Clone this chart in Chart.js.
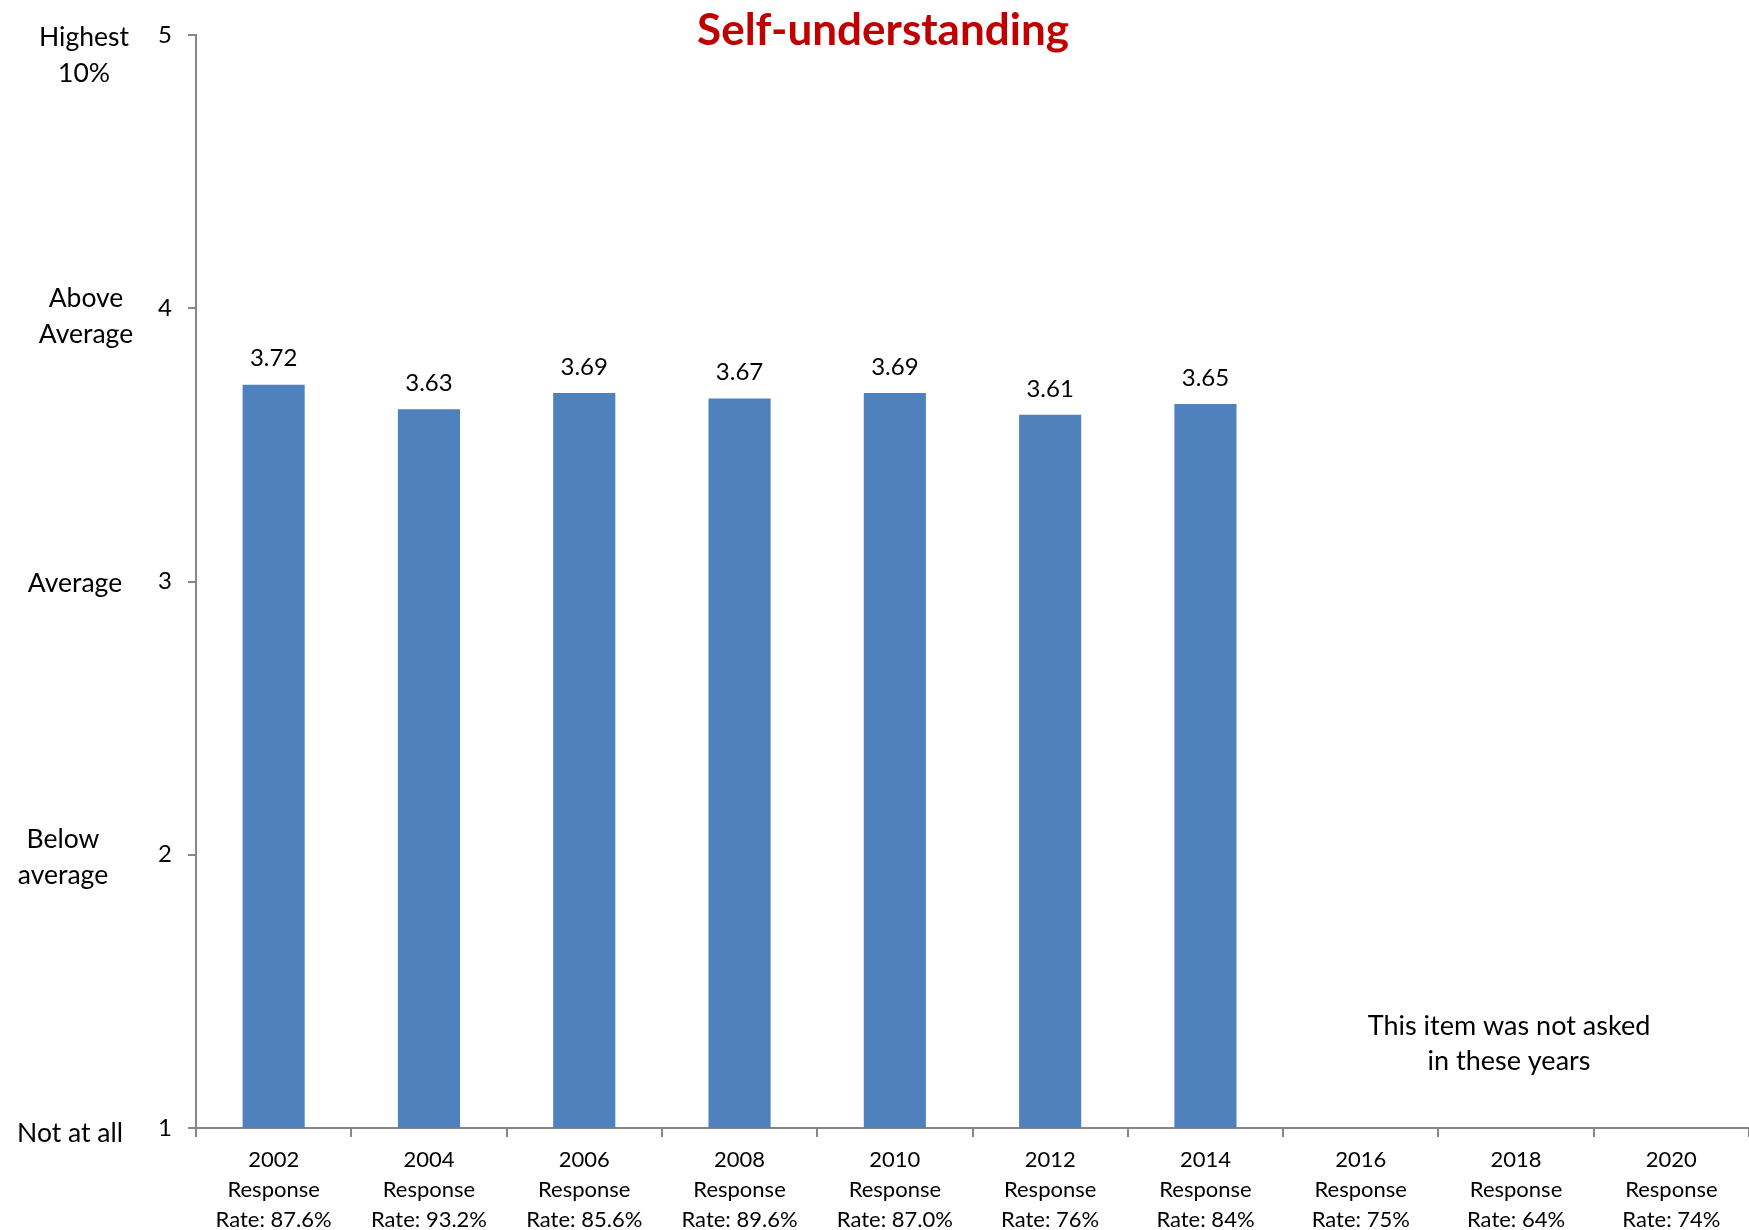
<!DOCTYPE html>
<html>
<head>
<meta charset="utf-8">
<script src="https://cdn.jsdelivr.net/npm/chart.js@4.4.1/dist/chart.umd.min.js"></script>
<style>
  html, body { margin: 0; padding: 0; background: #fff; }
  #wrap { width: 1749px; height: 1230px; }
</style>
</head>
<body>
<div id="wrap"><canvas id="chart" width="1749" height="1230"></canvas></div>
<script>
// chart data
const years = ['2002', '2004', '2006', '2008', '2010', '2012', '2014', '2016', '2018', '2020'];
const responseRates = ['87.6%', '93.2%', '85.6%', '89.6%', '87.0%', '76%', '84%', '75%', '64%', '74%'];
const scores = [3.72, 3.63, 3.69, 3.67, 3.69, 3.61, 3.65, null, null, null];
const scaleWords = [
  { value: 5, lines: ['Highest', '10%'], x: 84, dy: 2 },
  { value: 4, lines: ['Above', 'Average'], x: 86, dy: -10 },
  { value: 3, lines: ['Average'], x: 75, dy: 2 },
  { value: 2, lines: ['Below', 'average'], x: 63, dy: -15 },
  { value: 1, lines: ['Not at all'], x: 70, dy: 5 }
];
const titleText = 'Self-understanding';
const noteLines = ['This item was not asked', 'in these years'];

const FONT = 'Lato, "Open Sans", sans-serif';
const AXIS = '#868686';

// title, side words, value labels and the note are drawn here
const extras = {
  id: 'extras',
  afterDraw(chart) {
    const ctx = chart.ctx;
    const y = chart.scales.y;
    ctx.save();
    ctx.textAlign = 'center';
    ctx.textBaseline = 'middle';

    ctx.fillStyle = '#C00000';
    ctx.font = 'bold 44px ' + FONT;
    ctx.fillText(titleText, 883, 31);

    ctx.fillStyle = '#000';
    ctx.font = '26.5px ' + FONT;
    scaleWords.forEach(w => {
      const base = y.getPixelForValue(w.value) + w.dy;
      w.lines.forEach((l, i) => ctx.fillText(l, w.x, base + i * 36));
    });

    // values above bars
    ctx.font = '24px ' + FONT;
    const meta = chart.getDatasetMeta(0);
    meta.data.forEach((bar, i) => {
      if (scores[i] == null) return;
      ctx.fillText(scores[i].toFixed(2), bar.x, bar.y - 26);
    });

    // note over the empty years
    ctx.font = '27px ' + FONT;
    noteLines.forEach((l, i) => ctx.fillText(l, 1509, 1026 + i * 35));
    ctx.restore();
  }
};

new Chart(document.getElementById('chart').getContext('2d'), {
  type: 'bar',
  data: {
    labels: years.map((yr, i) => [yr, 'Response', 'Rate: ' + responseRates[i]]),
    datasets: [{
      data: scores,
      backgroundColor: '#4F81BD',
      barPercentage: 0.4,
      categoryPercentage: 1
    }]
  },
  options: {
    responsive: false,
    animation: false,
    layout: { padding: { top: 35, right: 0, left: 0, bottom: 0 } },
    plugins: { legend: { display: false }, tooltip: { enabled: false }, title: { display: false } },
    scales: {
      x: {
        grid: { display: true, drawOnChartArea: false, drawTicks: true, tickLength: 9, color: AXIS, lineWidth: 2, offset: true },
        border: { display: true, color: AXIS, width: 2 },
        ticks: { color: '#000', font: { family: FONT, size: 22, lineHeight: 1.36 }, padding: 8, maxRotation: 0, autoSkip: false },
        afterFit(s) { s.height = 102; }
      },
      y: {
        min: 1, max: 5,
        grid: { display: true, drawOnChartArea: false, drawTicks: true, tickLength: 8, color: AXIS, lineWidth: 2 },
        border: { display: true, color: AXIS, width: 2 },
        ticks: { stepSize: 1, color: '#000', font: { family: FONT, size: 24 }, padding: 16 },
        afterFit(s) { s.width = 196; }
      }
    }
  },
  plugins: [extras]
});
</script>
</body>
</html>
